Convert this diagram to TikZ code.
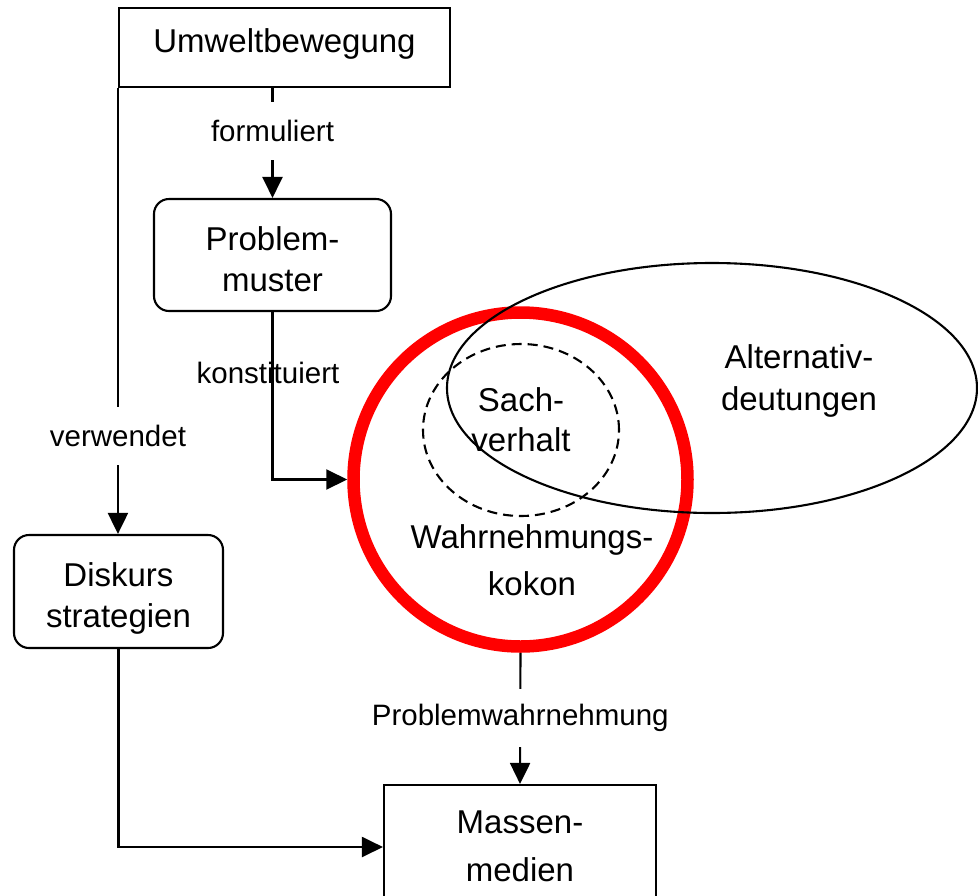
\documentclass[tikz,border=0pt]{standalone}
\usepackage{fontspec}
\setmainfont{Liberation Sans}
\usetikzlibrary{arrows.meta,shapes.geometric,calc}
\begin{document}
\begin{tikzpicture}[x=1pt,y=-1pt,
  line width=2.1pt,
  txt/.style={font=\fontsize{33}{41}\selectfont, align=center, inner sep=0pt},
  lbl/.style={font=\fontsize{29.5}{34}\selectfont, inner sep=0pt},
  gaplbl/.style={lbl, fill=white, minimum height=58pt, inner xsep=2pt},
  arr/.style={-{Triangle[length=21pt,width=20pt]}},
  box/.style={draw, rectangle, inner sep=0pt},
  rbox/.style={draw, rectangle, rounded corners=15pt, inner sep=0pt},
]
\useasboundingbox (0,0) rectangle (978,895);
% boxes
\node[box, minimum width=331pt, minimum height=79pt] (umwelt) at (284.5,47.5) {};
\node[txt] (umwelttxt) at (284.5,44) {Umweltbewegung};
\node[rbox, minimum width=237pt, minimum height=112pt] (problem) at (272.5,255) {};
\node[txt] (problemtxt) at (272.5,259) {Problem-\\muster};
\node[rbox, minimum width=209pt, minimum height=113pt] (diskurs) at (118.5,591.5) {};
\node[txt] (diskurstxt) at (118.5,598) {Diskurs\\strategien};
\node[box, minimum width=272pt, minimum height=124pt] (massen) at (520,847) {};
\node[txt, font=\fontsize{33}{48}\selectfont] (massentxt) at (520,846) {Massen-\\medien};
% red circle
\node[circle, draw=red, line width=12.5pt, minimum size=334pt, inner sep=0pt] (kokon) at (520.5,479.5) {};
\node[txt, font=\fontsize{33}{47}\selectfont] (kokontxt) at (532,560) {Wahrnehmungs-\\kokon};
% dashed ellipse
\node[ellipse, draw, dash pattern=on 10pt off 6pt, minimum width=196pt, minimum height=172pt, inner sep=0pt] (sach) at (521,430) {};
\node[txt, font=\fontsize{33}{40}\selectfont] (sachtxt) at (521,420) {Sach-\\verhalt};
% big ellipse
\node[ellipse, draw, minimum width=530pt, minimum height=250pt, inner sep=0pt] (alt) at (712,388) {};
\node[txt, font=\fontsize{33}{42}\selectfont] (alttxt) at (799,381) {Alternativ-\\deutungen};
% connectors
\coordinate (umweltbl) at (umwelt.south west);
\draw[arr] (problem.north |- umwelt.south) -- node[gaplbl, pos=0.39] {formuliert} (problem.north);
\draw[arr] (umweltbl) -- node[gaplbl, pos=0.78] {verwendet} (diskurs.north -| umweltbl);
\draw[arr] (problem.south) |- (kokon.west);
\node[lbl] (konst) at (268,373) {konstituiert};
\draw[arr] (kokon.south) -- node[gaplbl, pos=0.5] {Problemwahrnehmung} (massen.north);
\draw[arr] (diskurs.south) |- (massen.west);
\end{tikzpicture}
\end{document}
